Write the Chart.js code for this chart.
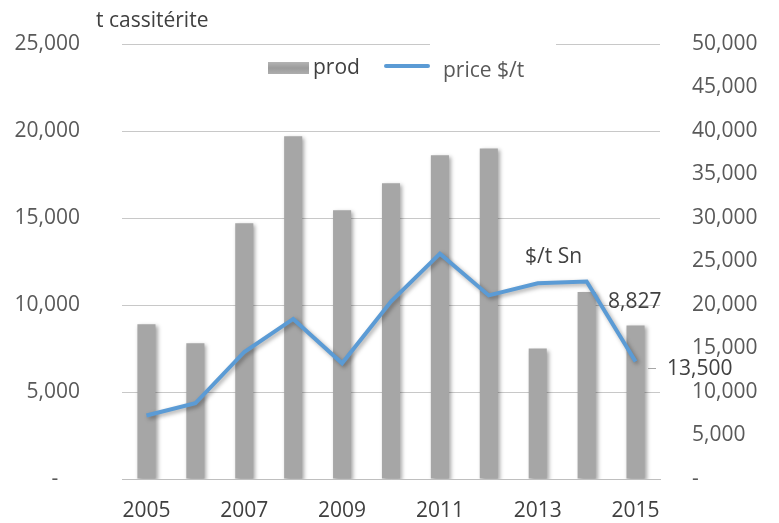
<!DOCTYPE html>
<html>
<head>
<meta charset="utf-8">
<script src="https://cdn.jsdelivr.net/npm/chart.js@4/dist/chart.umd.min.js"></script>
<style>
  html, body { margin: 0; padding: 0; background: #fff; }
  #wrap { width: 779px; height: 523px; position: relative; }
</style>
</head>
<body>
<div id="wrap"><canvas id="c" width="779" height="523"></canvas></div>
<script>
const years = ['2005','2006','2007','2008','2009','2010','2011','2012','2013','2014','2015'];
const prod = [8900, 7800, 14700, 19700, 15450, 17000, 18600, 19000, 7500, 10750, 8827];
const price = [7300, 8700, 14600, 18400, 13300, 20400, 25900, 21100, 22500, 22700, 13500];
const leftTicks = [0, 5000, 10000, 15000, 20000, 25000];
const rightTicks = [0, 5000, 10000, 15000, 20000, 25000, 30000, 35000, 40000, 45000, 50000];

const FONT = "'Open Sans', 'DejaVu Sans', sans-serif";
const fmt = v => v === 0 ? '-' : v.toLocaleString('en-US');

const overlay = {
  id: 'overlay',
  beforeDatasetDraw(chart, args) {
    const ctx = chart.ctx;
    ctx.save();
    ctx.shadowColor = 'rgba(0,0,0,0.35)';
    ctx.shadowBlur = 4;
    ctx.shadowOffsetX = 2;
    ctx.shadowOffsetY = 2;
  },
  afterDatasetDraw(chart) {
    chart.ctx.restore();
  },
  afterDraw(chart) {
    const ctx = chart.ctx;
    const top = chart.chartArea.top;
    ctx.save();
    // gap in top gridline behind legend
    ctx.fillStyle = '#fff';
    ctx.fillRect(430, top - 4, 126, 8);
    ctx.font = '21px ' + FONT;
    ctx.textBaseline = 'middle';
    ctx.textAlign = 'left';
    // axis title
    ctx.fillStyle = '#404040';
    ctx.fillText('t cassitérite', 96, 21);
    // legend
    const g = ctx.createLinearGradient(0, 61, 0, 75);
    g.addColorStop(0, '#b8b8b8'); g.addColorStop(0.5, '#9c9c9c'); g.addColorStop(1, '#b0b0b0');
    ctx.fillStyle = g;
    ctx.fillRect(268, 62, 41, 12);
    ctx.fillStyle = '#404040';
    ctx.fillText('prod', 313, 68);
    ctx.strokeStyle = '#5B9BD5';
    ctx.lineWidth = 4;
    ctx.lineCap = 'round';
    ctx.beginPath(); ctx.moveTo(386, 66); ctx.lineTo(428, 66); ctx.stroke();
    ctx.fillStyle = '#595959';
    ctx.fillText('price $/t', 443, 71);
    // annotations
    ctx.fillStyle = '#404040';
    ctx.fillText('$/t Sn', 525, 257);
    ctx.fillText('8,827', 608, 302);
    ctx.fillText('13,500', 667, 369);
    ctx.strokeStyle = '#a6a6a6';
    ctx.lineWidth = 1;
    ctx.lineCap = 'butt';
    ctx.beginPath(); ctx.moveTo(648, 368.5); ctx.lineTo(656, 368.5); ctx.stroke();
    ctx.restore();
  }
};

new Chart(document.getElementById('c'), {
  data: {
    labels: years,
    datasets: [
      {
        type: 'line',
        label: 'price $/t',
        data: price,
        yAxisID: 'y2',
        borderColor: '#5B9BD5',
        borderWidth: 4,
        pointRadius: 0,
        tension: 0,
        order: 0
      },
      {
        type: 'bar',
        label: 'prod',
        data: prod,
        yAxisID: 'y',
        backgroundColor: '#a6a6a6',
        borderWidth: 0,
        barPercentage: 0.37,
        categoryPercentage: 1,
        order: 1
      }
    ]
  },
  options: {
    responsive: false,
    animation: false,
    layout: { padding: { top: 44, left: 0, right: 0, bottom: 0 } },
    plugins: { legend: { display: false }, tooltip: { enabled: false } },
    scales: {
      x: {
        offset: true,
        grid: { display: false, drawTicks: false },
        border: { display: true, color: '#bfbfbf', width: 1 },
        ticks: {
          autoSkip: false,
          maxRotation: 0,
          padding: 19,
          color: '#404040',
          font: { family: FONT, size: 21 },
          callback: (v, i) => i % 2 === 0 ? years[i] : ''
        },
        afterFit: s => { s.height = 44; }
      },
      y: {
        position: 'left',
        min: 0, max: 25000,
        afterBuildTicks: s => { s.ticks = leftTicks.map(v => ({ value: v })); },
        grid: { color: '#c8c8c8', drawTicks: false },
        border: { display: false },
        ticks: {
          padding: 42,
          color: '#595959',
          font: { family: FONT, size: 21 },
          callback: v => v === 0 ? '-    ' : fmt(v)
        },
        afterFit: s => { s.width = 122; s.paddingTop = 0; s.paddingBottom = 0; }
      },
      y2: {
        position: 'right',
        min: 0, max: 50000,
        afterBuildTicks: s => { s.ticks = rightTicks.map(v => ({ value: v })); },
        grid: { display: false, drawTicks: false },
        border: { display: false },
        ticks: {
          padding: 32,
          color: '#595959',
          font: { family: FONT, size: 21 },
          callback: v => fmt(v)
        },
        afterFit: s => { s.width = 119; s.paddingTop = 0; s.paddingBottom = 0; }
      }
    }
  },
  plugins: [overlay]
});
</script>
</body>
</html>
